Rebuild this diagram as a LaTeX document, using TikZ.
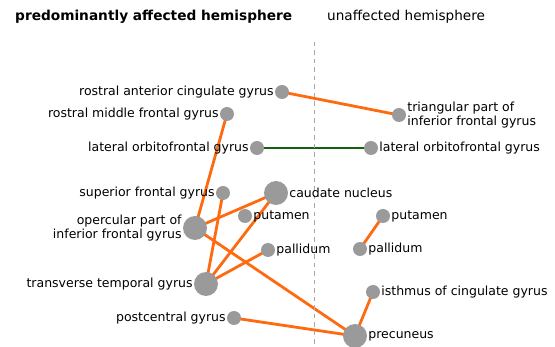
\documentclass[tikz,border=0pt]{standalone}
\usepackage{fontspec}
\setmainfont{DejaVu Sans}
\usetikzlibrary{backgrounds}
\definecolor{dotgray}{HTML}{9A9A9A}
\definecolor{linkorange}{HTML}{FF6A10}
\definecolor{linkgreen}{HTML}{0E640E}
\definecolor{midgray}{HTML}{A8A8A8}

\begin{document}
\begin{tikzpicture}[x=1pt, y=-1pt, line cap=butt,
  roi/.style={circle, fill=dotgray, inner sep=0pt, minimum size=14pt},
  bigroi/.style={roi, minimum size=24pt},
  lbl/.style={inner sep=1pt, font=\fontsize{12.5}{14.5}\selectfont},
  lblL/.style={label={[lbl, label distance=0pt, align=right]left:#1}},
  lblR/.style={label={[lbl, label distance=0pt, align=left]right:#1}},
  orangelink/.style={draw=linkorange, line width=2.8pt},
  greenlink/.style={draw=linkgreen, line width=2.8pt}]

  %% ════ 标题 ════
  \node[anchor=west, inner sep=0pt, font=\fontsize{13.7}{16}\selectfont\bfseries] (ttlA) at (15,17) {predominantly affected hemisphere};
  \node[anchor=west, inner sep=0pt, font=\fontsize{13.6}{16}\selectfont] (ttlU) at (327,17) {unaffected hemisphere};

  %% ════ 中线 ════
  \draw[midgray, line width=1pt, dash pattern=on 4.5pt off 4pt] (314,42) -- (314,347);

  %% ════ 左半球 ════
  \node[roi, lblL={rostral anterior cingulate gyrus}] (racg) at (282,92) {};
  \node[roi, lblL={rostral middle frontal gyrus}] (rmfg) at (227,114) {};
  \node[roi, lblL={lateral orbitofrontal gyrus}] (lofgA) at (257,148) {};
  \node[roi, lblL={superior frontal gyrus}] (sfg) at (223,193) {};
  \node[bigroi, lblR={caudate nucleus}] (caud) at (276,193) {};
  \node[roi, lblR={putamen}] (putA) at (245,216) {};
  \node[bigroi, lblL={opercular part of\\inferior frontal gyrus}] (opif) at (195,228) {};
  \node[roi, lblR={pallidum}] (palA) at (268,250) {};
  \node[bigroi, lblL={transverse temporal gyrus}] (ttg) at (206,284) {};
  \node[roi, lblL={postcentral gyrus}] (pcg) at (234,318) {};

  %% ════ 右半球 ════
  \node[roi, lblR={triangular part of\\inferior frontal gyrus}] (trif) at (399,115) {};
  \node[roi, lblR={lateral orbitofrontal gyrus}] (lofgU) at (371,148) {};
  \node[roi, lblR={putamen}] (putU) at (383,216) {};
  \node[roi, lblR={pallidum}] (palU) at (360,249) {};
  \node[roi, lblR={isthmus of cingulate gyrus}] (isth) at (373,292) {};
  \node[bigroi, lblR={precuneus}] (prec) at (355,336) {};

  %% ════ 连线（压在圆点下面）════
  \begin{scope}[on background layer]
    \draw[orangelink] (racg.center) -- (trif.center);
    \draw[orangelink] (rmfg.center) -- (opif.center);
    \draw[orangelink] (sfg.center) -- (ttg.center);
    \draw[orangelink] (caud.center) -- (opif.center);
    \draw[orangelink] (caud.center) -- (ttg.center);
    \draw[orangelink] (palA.center) -- (ttg.center);
    \draw[orangelink] (opif.center) -- (prec.center);
    \draw[orangelink] (pcg.center) -- (prec.center);
    \draw[orangelink] (isth.center) -- (prec.center);
    \draw[orangelink] (putU.center) -- (palU.center);
    \draw[greenlink] (lofgA.center) -- (lofgU.center);
  \end{scope}

  % 钉死画布
  \pgfresetboundingbox
  \path[use as bounding box] (0,0) rectangle (555,347);
\end{tikzpicture}
\end{document}
